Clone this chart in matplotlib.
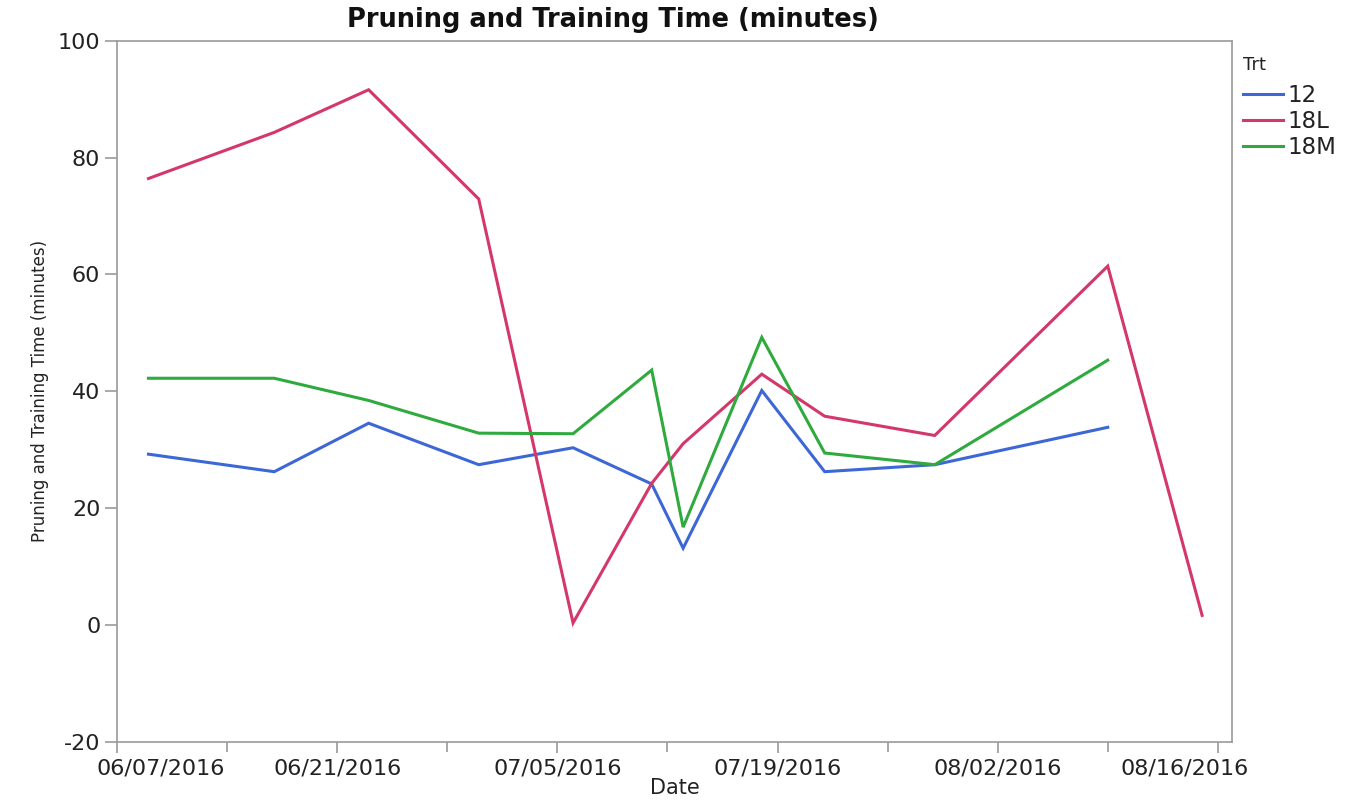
import matplotlib
matplotlib.use("Agg")
import matplotlib.pyplot as plt
import matplotlib.transforms as mtransforms
import datetime as dt

plt.rcParams["axes.unicode_minus"] = False

# ---- data ----
dates_all = ["2016-06-09", "2016-06-17", "2016-06-23", "2016-06-30", "2016-07-06",
             "2016-07-11", "2016-07-13", "2016-07-18", "2016-07-22", "2016-07-29",
             "2016-08-09", "2016-08-15"]
trt_names = ["12", "18L", "18M"]
vals_12  = [29.2, 26.2, 34.5, 27.4, 30.3, 24.1, 13.1, 40.1, 26.2, 27.4, 33.8, None]
vals_18L = [76.4, 84.3, 91.6, 72.9, 0.3, 24.2, 31.0, 42.9, 35.7, 32.4, 61.4, 1.6]
vals_18M = [42.2, 42.2, 38.4, 32.8, 32.7, 43.6, 16.7, 49.2, 29.4, 27.4, 45.3, None]
tick_labels = ["06/07/2016", "06/21/2016", "07/05/2016", "07/19/2016", "08/02/2016", "08/16/2016"]
y_ticks = [-20, 0, 20, 40, 60, 80, 100]

colors = ["#3D67D6", "#D4376A", "#2FAA3E"]

dates = [dt.datetime.strptime(d, "%Y-%m-%d") for d in dates_all]

fig = plt.figure(figsize=(13.55, 8.0), dpi=100)
ax = fig.add_axes([117/1355, 1-741.5/800, (1232-117)/1355, (741.5-40.7)/800])

for name, vals, c in zip(trt_names, [vals_12, vals_18L, vals_18M], colors):
    xs = [d for d, v in zip(dates, vals) if v is not None]
    ys = [v for v in vals if v is not None]
    ax.plot(xs, ys, color=c, lw=2.2, label=name, solid_joinstyle="miter")

x0 = dt.datetime(2016, 6, 7)
ax.set_xlim(x0, dt.datetime(2016, 8, 16) + dt.timedelta(days=0.9))
ax.set_ylim(-20, 100)

major = [dt.datetime.strptime(t, "%m/%d/%Y") for t in tick_labels]
minor = [m + dt.timedelta(days=7) for m in major[:-1]]
ax.set_xticks(major)
ax.set_xticklabels(tick_labels)
ax.set_xticks(minor, minor=True)
ax.set_yticks(y_ticks)

for s in ax.spines.values():
    s.set_color("#9a9a9a")
    s.set_linewidth(1.2)
ax.tick_params(axis="both", which="both", color="#9a9a9a", width=1.2, labelsize=16, labelcolor="#222222")
ax.tick_params(axis="x", which="major", length=8, pad=4)
ax.tick_params(axis="x", which="minor", length=7)
ax.tick_params(axis="y", length=9, pad=3)

# shift first and last tick labels inward like the reference
labels = ax.get_xticklabels()
labels[0].set_transform(labels[0].get_transform() + mtransforms.ScaledTranslation(0.44, 0, fig.dpi_scale_trans))
labels[-1].set_transform(labels[-1].get_transform() + mtransforms.ScaledTranslation(-0.33, 0, fig.dpi_scale_trans))

ax.set_xlabel("Date", fontsize=15, color="#222222", labelpad=0)
ax.set_ylabel("Pruning and Training Time (minutes)", fontsize=12, color="#222222", labelpad=6)

fig.text(613/1355, 1-20/800, "Pruning and Training Time (minutes)", ha="center", va="center",
         fontsize=18.5, fontweight="bold", color="#111111")

fig.text(1243/1355, 1-65/800, "Trt", ha="left", va="center", fontsize=13, color="#222222")
leg = fig.legend(handles=ax.get_lines(), labels=trt_names,
                 loc="upper left", bbox_to_anchor=(1234/1355, 1-75/800),
                 frameon=False, fontsize=16.5,
                 handlelength=1.75, handletextpad=0.2, labelspacing=0.13,
                 borderaxespad=0)
for t in leg.get_texts():
    t.set_color("#222222")

fig.savefig("out.png", dpi=100, facecolor="white")
